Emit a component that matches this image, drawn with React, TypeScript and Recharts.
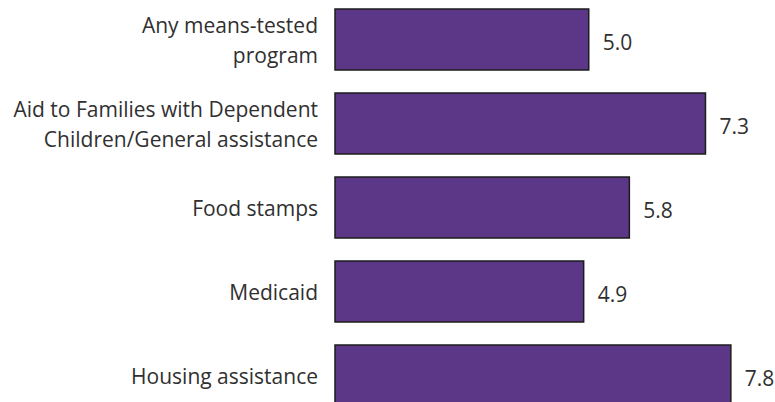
import React from 'react';
import { BarChart, Bar, XAxis, YAxis, LabelList } from 'recharts';

// Programs, top to bottom ("\n" marks where the label wraps)
const programs = [
    'Any means-tested\nprogram',
    'Aid to Families with Dependent\nChildren/General assistance',
    'Food stamps',
    'Medicaid',
    'Housing assistance',
];

const values = [5.0, 7.3, 5.8, 4.9, 7.8];

const xDomain = [0, 8];

const FONT = '"Open Sans", sans-serif';
const TEXT = '#303030';

const data = programs.map((name, i) => ({ name, value: values[i] }));

const ProgramTick = (props: any) => {
    const { x, y, payload } = props;
    const lines = String(payload.value).split('\n');
    const lineH = 30;
    const first = -((lines.length - 1) * lineH) / 2 + 9;
    return (
        <text x={x} y={y} textAnchor="end" fill={TEXT} fontSize={21} fontFamily={FONT}>
            {lines.map((l, i) => (
                <tspan key={i} x={x} dy={i === 0 ? first : lineH}>
                    {l}
                </tspan>
            ))}
        </text>
    );
};

const ValueLabel = (props: any) => {
    const { x, y, width, height, value } = props;
    return (
        <text
            x={x + width + 14}
            y={y + height / 2 + 10}
            fill={TEXT}
            fontSize={21}
            fontFamily={FONT}
        >
            {Number(value).toFixed(1)}
        </text>
    );
};

export default function App() {
    return (
        <div style={{ width: 775, height: 402, overflow: 'hidden', background: '#fff' }}>
            <style>{`body{margin:0}`}</style>
            <div style={{ marginTop: -3 }}>
                <BarChart
                    width={775}
                    height={420}
                    data={data}
                    layout="vertical"
                    margin={{ top: 0, right: 34, bottom: 0, left: 0 }}
                    barSize={61}
                >
                    <XAxis type="number" domain={xDomain} hide />
                    <YAxis
                        type="category"
                        dataKey="name"
                        width={335}
                        axisLine={false}
                        tickLine={false}
                        tickSize={0}
                        tickMargin={17}
                        interval={0}
                        tick={<ProgramTick />}
                    />
                    <Bar
                        dataKey="value"
                        fill="#5d3787"
                        stroke="#1c1c1c"
                        strokeWidth={1.5}
                        isAnimationActive={false}
                    >
                        <LabelList dataKey="value" content={<ValueLabel />} />
                    </Bar>
                </BarChart>
            </div>
        </div>
    );
}
